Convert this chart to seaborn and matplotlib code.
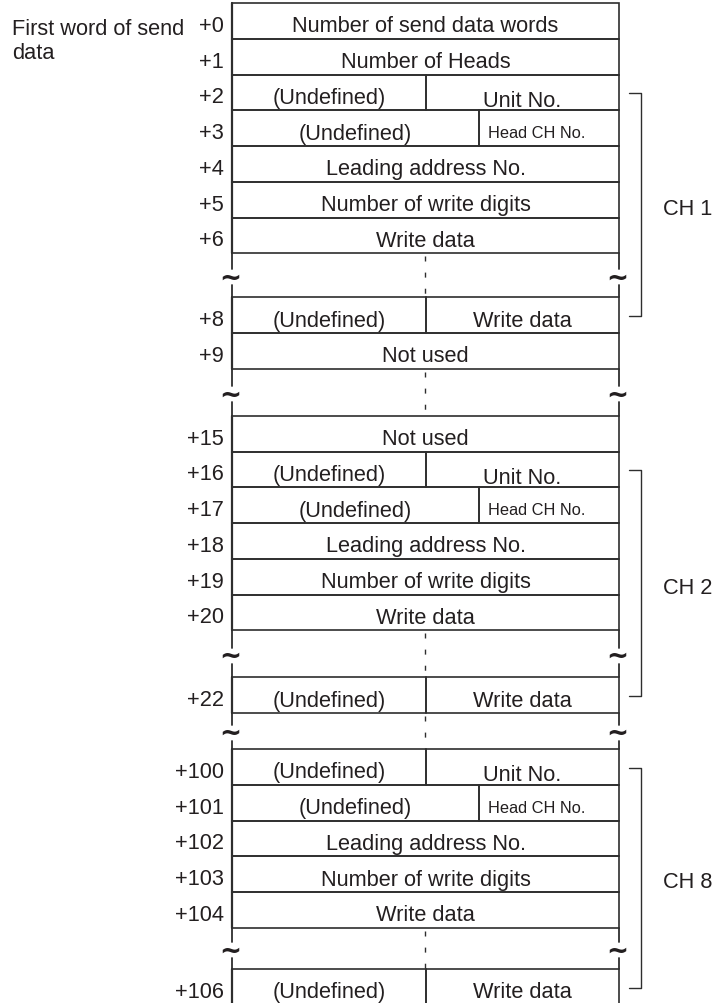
import matplotlib
matplotlib.use("Agg")
import matplotlib.pyplot as plt
import matplotlib.patches as mpatches
import seaborn as sns

# word offsets and what each word holds (left part / right part of the word)
word_offsets = ["+0", "+1", "+2", "+3", "+4", "+5", "+6", "+8", "+9",
                "+15", "+16", "+17", "+18", "+19", "+20", "+22",
                "+100", "+101", "+102", "+103", "+104", "+106"]
word_left = ["Number of send data words", "Number of Heads", "(Undefined)", "(Undefined)",
             "Leading address No.", "Number of write digits", "Write data",
             "(Undefined)", "Not used",
             "Not used", "(Undefined)", "(Undefined)", "Leading address No.",
             "Number of write digits", "Write data", "(Undefined)",
             "(Undefined)", "(Undefined)", "Leading address No.",
             "Number of write digits", "Write data", "(Undefined)"]
word_right = ["", "", "Unit No.", "Head CH No.", "", "", "", "Write data", "",
              "", "Unit No.", "Head CH No.", "", "", "", "Write data",
              "Unit No.", "Head CH No.", "", "", "", "Write data"]

# words after which the table is broken (~)
break_after = ["+6", "+9", "+20", "+22", "+104"]
break_gaps = [44, 47, 47, 36, 41]

# channel brackets
channels = ["CH 1", "CH 2", "CH 8"]
ch_first = ["+2", "+16", "+100"]
ch_last = ["+8", "+22", "+106"]

first_word_label = ["First word of send", "data"]

# layout (pixels)
W, H = 714, 1004
X0, X1 = 232, 619
X_MID, X_HEAD = 425.5, 479
ROW_H = 35.75
TOP = 4.0
INK = "#231f20"
LINE = "#2e2e2e"
FS = 15.7

sns.set_theme(style="white")
plt.rcParams["font.family"] = ["Liberation Sans", "DejaVu Sans"]

fig = plt.figure(figsize=(W / 100, H / 100), dpi=100)
ax = fig.add_axes([0, 0, 1, 1])
ax.set_xlim(0, W)
ax.set_ylim(H, 0)
ax.axis("off")

# vertical positions of each word row and of each break
tops = {}
gaps = []
y = TOP
for off in word_offsets:
    tops[off] = y
    y += ROW_H
    if off in break_after:
        g = break_gaps[break_after.index(off)]
        gaps.append((y, y + g))
        y += g

for off, left, right in zip(word_offsets, word_left, word_right):
    t = tops[off]
    c = t + ROW_H / 2
    ax.add_patch(mpatches.Rectangle((X0, t), X1 - X0, ROW_H, fill=False,
                                    edgecolor=LINE, linewidth=1.2))
    ax.text(X0 - 8, c + 10, off, ha="right", va="baseline", fontsize=FS, color=INK)
    if right:
        split = X_HEAD if right == "Head CH No." else X_MID
        ax.plot([split, split], [t, t + ROW_H], color=LINE, lw=1.4)
        ax.text((X0 + split) / 2, c + 10.5, left, ha="center", va="baseline",
                fontsize=FS, color=INK)
        if right == "Head CH No.":
            ax.text(split + 9, c + 9, right, ha="left", va="baseline",
                    fontsize=11.8, color=INK)
        else:
            dy = 13.5 if right == "Unit No." else 10.5
            ax.text((split + X1) / 2, c + dy, right, ha="center", va="baseline",
                    fontsize=FS, color=INK)
    else:
        ax.text((X0 + X1) / 2, c + 10.5, left, ha="center", va="baseline",
                fontsize=FS, color=INK)

# left edge drawn a bit heavier, as in the original
for off in word_offsets:
    ax.plot([X0, X0], [tops[off], tops[off] + ROW_H], color=LINE, lw=1.6)

# broken sections: side stubs, tildes and dashed centre line
for g0, g1 in gaps:
    tm = (g0 + g1) / 2 + 2
    for xe in (X0, X1):
        ax.plot([xe, xe], [g0, tm - 8], color=LINE, lw=1.3)
        ax.plot([xe, xe], [tm + 8, g1], color=LINE, lw=1.3)
        ax.text(xe - 2, tm, "~", ha="center", va="center", fontsize=19,
                fontweight="bold", color=INK, family="DejaVu Sans")
    ax.plot([X_MID - 1, X_MID - 1], [g0 + 3, g1], color=LINE, lw=1.0,
            linestyle=(0, (3.6, 8.0)))

# channel brackets
BX = 641
for name, a, b in zip(channels, ch_first, ch_last):
    ya = tops[a] + ROW_H / 2 + 1
    yb = tops[b] + ROW_H / 2 + 1
    ax.plot([BX - 12, BX, BX, BX - 12], [ya, ya, yb, yb], color=LINE, lw=1.0)
    ax.text(663, (ya + yb) / 2 + 9.5, name, ha="left", va="baseline",
            fontsize=FS, color=INK)

for i, line in enumerate(first_word_label):
    ax.text(12, 35 + 24 * i, line, ha="left", va="baseline", fontsize=FS, color=INK)

fig.savefig("out.png", dpi=100)
